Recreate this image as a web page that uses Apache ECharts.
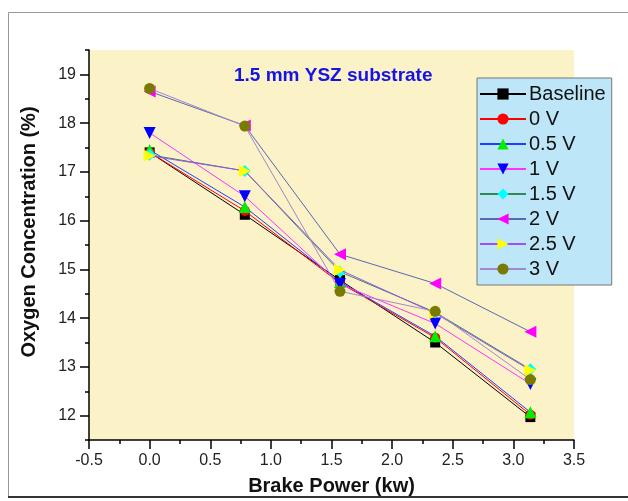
<!DOCTYPE html>
<html>
<head>
<meta charset="utf-8">
<script src="https://cdn.jsdelivr.net/npm/echarts@6/dist/echarts.min.js"></script>
<style>html,body{margin:0;padding:0;background:#fff}#c{width:628px;height:501px}</style>
</head>
<body>
<div id="c"></div>
<script>
// Data
const brakePower = [0, 0.785, 1.57, 2.355, 3.14];
const seriesNames = ['Baseline', '0 V', '0.5 V', '1 V', '1.5 V', '2 V', '2.5 V', '3 V'];
const baseline = [17.40, 16.12, 14.78, 13.50, 11.97];
const v0 = [17.40, 16.20, 14.72, 13.60, 12.02];
const v05 = [17.45, 16.28, 14.74, 13.63, 12.07];
const v1 = [17.80, 16.50, 14.70, 13.89, 12.65];
const v15 = [17.35, 17.02, 14.95, 14.12, 12.95];
const v2 = [18.65, 17.95, 15.31, 14.71, 13.72];
const v25 = [17.33, 17.02, 14.99, 14.10, 12.93];
const v3 = [18.71, 17.94, 14.55, 14.14, 12.74];
const yTickLabels = [12, 13, 14, 15, 16, 17, 18, 19];

const allValues = [baseline, v0, v05, v1, v15, v2, v25, v3];
const lineColors = ['#000000', '#ff0000', '#1f3fff', '#ff33ff', '#2e8b57', '#5a68b0', '#a050f0', '#a088cc'];
const markerColors = ['#000000', '#ff0000', '#00ee00', '#0000ff', '#00ffff', '#ff00ff', '#ffff00', '#7a7a00'];
const symbols = ['rect', 'circle', 'triangle', 'triangle', 'diamond', 'triangle', 'triangle', 'circle'];
const rotates = [0, 0, 0, 180, 0, 90, -90, 0];
const sizes = [10, 10, 12, 12, 12, 12, 12, 11];

const chart = echarts.init(document.getElementById('c'), null, {renderer: 'canvas'});
const font = '"Liberation Sans", Arial, sans-serif';

const series = allValues.map((vals, i) => ({
  name: seriesNames[i],
  type: 'line',
  data: vals.map((v, j) => [brakePower[j], v]),
  symbol: symbols[i],
  symbolRotate: rotates[i],
  symbolSize: sizes[i],
  lineStyle: {color: lineColors[i], width: 1},
  itemStyle: {color: markerColors[i]},
  z: 10 + i,
  animation: false
}));

chart.setOption({
  animation: false,
  backgroundColor: '#ffffff',
  title: {
    text: '1.5 mm YSZ substrate',
    left: 229, top: 61,
    textStyle: {color: '#1414e6', fontSize: 19, fontWeight: 'bold', fontFamily: font}
  },
  grid: {
    left: 89, right: 54, top: 50, bottom: 61,
    show: true, backgroundColor: '#fcf2c8', borderWidth: 0
  },
  legend: {
    orient: 'vertical',
    left: 477, top: 78,
    width: 135,
    padding: [6, 6, 6, 2],
    itemWidth: 46, itemHeight: 14, itemGap: 5,
    backgroundColor: '#bde6f8',
    borderColor: '#777', borderWidth: 1,
    textStyle: {fontSize: 20, color: '#111', fontFamily: font, padding: [0, 0, 0, -2]},
    data: seriesNames
  },
  xAxis: {
    type: 'value',
    min: -0.5, max: 3.5, interval: 0.5,
    name: 'Brake Power (kw)',
    nameLocation: 'middle', nameGap: 36,
    nameTextStyle: {fontSize: 20, fontWeight: 'bold', color: '#111', fontFamily: font},
    axisLine: {show: true, onZero: false, lineStyle: {color: '#000', width: 1.5}},
    axisTick: {show: true, length: 9, inside: false, lineStyle: {color: '#000', width: 1.5}},
    minorTick: {show: true, splitNumber: 2, length: 4, lineStyle: {color: '#000', width: 1.5}},
    axisLabel: {fontSize: 16, color: '#222', fontFamily: font, margin: 13,
      formatter: v => v.toFixed(1)},
    splitLine: {show: false}
  },
  yAxis: [{
    type: 'value',
    min: 11.5, max: 19.5, interval: 0.5,
    name: 'Oxygen Concentration (%)',
    nameLocation: 'middle', nameGap: 50, nameRotate: 90,
    nameTextStyle: {fontSize: 20, fontWeight: 'bold', color: '#111', fontFamily: font, padding: [0, 0, 0, 26]},
    axisLine: {show: true, onZero: false, lineStyle: {color: '#000', width: 1.5}},
    axisTick: {show: true, length: 4, lineStyle: {color: '#000', width: 1.5}},
    axisLabel: {fontSize: 16, color: '#222', fontFamily: font, margin: 13,
      formatter: v => (yTickLabels.indexOf(v) >= 0 ? String(v) : '')},
    splitLine: {show: false}
  }, {
    type: 'value',
    position: 'left',
    min: 11.5, max: 19.5,
    axisLine: {show: false, onZero: false},
    axisTick: {show: true, length: 9, customValues: yTickLabels, lineStyle: {color: '#000', width: 1.5}},
    axisLabel: {show: false},
    splitLine: {show: false}
  }],
  series: series,
  graphic: [
    {type: 'rect', silent: true, z: -10, shape: {x: 8.5, y: 12.5, width: 640, height: 484},
     style: {fill: 'none', stroke: '#999', lineWidth: 1}},
    {type: 'line', silent: true, z: -9, shape: {x1: 8, y1: 497, x2: 628, y2: 497},
     style: {stroke: '#333', lineWidth: 2}}
  ]
});
</script>
</body>
</html>
